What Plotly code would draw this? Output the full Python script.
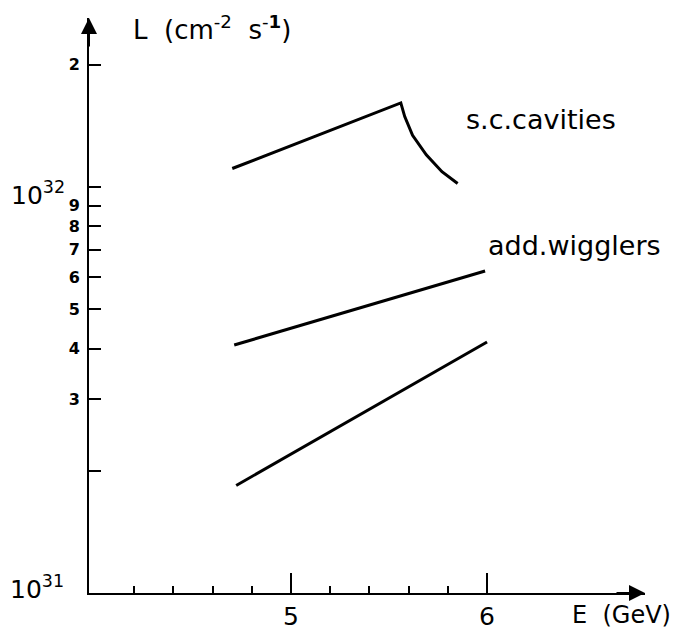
import plotly.graph_objects as go

# luminosity vs beam energy
sc_energy = [4.70, 5.56, 5.58, 5.62, 5.69, 5.77, 5.85]
sc_lumi = [1.11e32, 1.61e32, 1.49e32, 1.34e32, 1.20e32, 1.09e32, 1.02e32]

wig_energy = [4.71, 5.99]
wig_lumi = [4.08e31, 6.21e31]

base_energy = [4.72, 6.00]
base_lumi = [1.84e31, 4.15e31]

x_major = [5, 6]
x_minor = [4.2, 4.4, 4.6, 4.8, 5.2, 5.4, 5.6, 5.8]
y_ticks = [2e31, 3e31, 4e31, 5e31, 6e31, 7e31, 8e31, 9e31, 1e32, 2e32]
y_labels = ["", "3", "4", "5", "6", "7", "8", "9", "", "2"]

FONT = "DejaVu Sans"
line_style = dict(color="black", width=3)
NB = "\u00a0"

fig = go.Figure()
for xs, ys in [(sc_energy, sc_lumi), (wig_energy, wig_lumi), (base_energy, base_lumi)]:
    fig.add_trace(go.Scatter(x=xs, y=ys, mode="lines", line=line_style,
                             showlegend=False, hoverinfo="skip"))

# the page body adds an 8px margin, so the figure is 8px smaller each way
fig.update_layout(
    width=673, height=623,
    margin=dict(l=81, r=36, t=10, b=38),
    paper_bgcolor="white", plot_bgcolor="white",
    font=dict(family=FONT, color="black"),
    xaxis=dict(
        range=[3.969, 6.806], showgrid=False, zeroline=False, automargin=False,
        showline=True, linecolor="black", linewidth=2,
        ticks="inside", ticklen=20, tickwidth=2, tickcolor="black",
        tickvals=x_major, ticktext=[str(v) for v in x_major],
        tickfont=dict(size=25), ticklabelstandoff=0,
        minor=dict(tickvals=x_minor, ticks="inside", ticklen=7,
                   tickwidth=2, tickcolor="black"),
    ),
    yaxis=dict(
        type="log", range=[31, 32.416], showgrid=False, zeroline=False,
        automargin=False,
        showline=True, linecolor="black", linewidth=2,
        ticks="inside", ticklen=12, tickwidth=2, tickcolor="black",
        tickvals=y_ticks, ticktext=["<b>%s</b>" % t if t else "" for t in y_labels],
        tickfont=dict(size=16), ticklabelstandoff=4,
    ),
)

# axis arrows
arrow = dict(text="", showarrow=True, arrowhead=2, arrowsize=1.6,
             arrowwidth=2, arrowcolor="black", standoff=0)
fig.add_annotation(x=6.806, y=31, xref="x", yref="y", ax=-30, ay=0, **arrow)
fig.add_annotation(x=3.969, y=32.416, xref="x", yref="y", ax=0, ay=30, **arrow)

# decade labels
fig.add_annotation(x=-0.04, y=0.694, xref="paper", yref="paper", xanchor="right",
                   yanchor="middle", showarrow=False,
                   text="10<sup>32</sup>", font=dict(size=25))
fig.add_annotation(x=-0.042, y=0.01, xref="paper", yref="paper", xanchor="right",
                   yanchor="middle", showarrow=False,
                   text="10<sup>31</sup>", font=dict(size=25))

# axis titles
fig.add_annotation(x=0.076, y=0.982, xref="paper", yref="paper", xanchor="left",
                   yanchor="middle", showarrow=False,
                   text="L" + NB * 2 + "(cm<sup>-2</sup>" + NB * 2 + "s<sup>-<b>1</b></sup>)",
                   font=dict(size=26))
fig.add_annotation(x=1.05, y=-0.038, xref="paper", yref="paper", xanchor="right",
                   yanchor="middle", showarrow=False,
                   text="E" + NB * 2 + "(GeV)", font=dict(size=24))

# curve labels
fig.add_annotation(x=6.276, y=32.165, xref="x", yref="y", showarrow=False,
                   text="s.c.cavities", font=dict(size=27))
fig.add_annotation(x=6.446, y=31.857, xref="x", yref="y", showarrow=False,
                   text="add.wigglers", font=dict(size=27))

fig.write_html("out.html")
